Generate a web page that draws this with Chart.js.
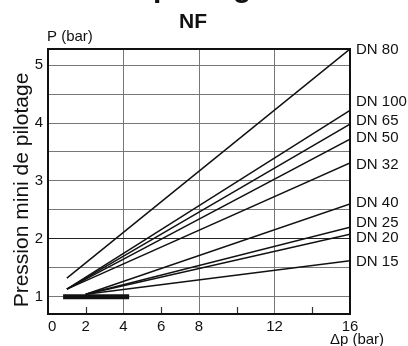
<!DOCTYPE html>
<html lang="fr">
<head>
<meta charset="utf-8">
<title>Pression mini de pilotage - NF</title>
<script src="https://cdn.jsdelivr.net/npm/chart.js@4.4.1/dist/chart.umd.min.js"></script>
<style>
    html, body { margin: 0; padding: 0; background: #fff; }
    canvas { display: block; }
</style>
</head>
<body>
<canvas id="graficoNF" width="408" height="346"></canvas>
<script>
/* ================= DONNEES ================= */
const series = ['DN 80', 'DN 100', 'DN 65', 'DN 50', 'DN 32', 'DN 40', 'DN 25', 'DN 20', 'DN 15'];
const dpDebut = [1, 1, 1, 1, 1, 2, 2, 2, 2];
const pDebut = [1.32, 1.13, 1.13, 1.13, 1.13, 1.04, 1.04, 1.04, 1.04];
const dpFin = [16, 16, 16, 16, 16, 16, 16, 16, 16];
const pFin = [5.28, 4.22, 3.98, 3.72, 3.31, 2.60, 2.20, 2.08, 1.62];

// palier a 1 bar (trait epais)
const dpPalier = [0.8, 4.3];
const pPalier = [1, 1];

// graduations
const xTicks = [0, 2, 4, 6, 8, 10, 12, 14, 16];
const xLabels = [0, 2, 4, 6, 8, 12, 16];
const xGrid = [4, 8, 12];
const yTicks = [1, 1.5, 2, 2.5, 3, 3.5, 4, 4.5, 5];
const yLabels = [1, 2, 3, 4, 5];

/* ================= STYLE ================= */
const FONTE = "'Liberation Sans', Arial, Helvetica, sans-serif";
const NOIR = '#111';
const GRIS = '#777';

// petits decalages verticaux des etiquettes DN (pour eviter les chevauchements)
const decalage = { 'DN 80': 1, 'DN 100': -8, 'DN 65': -3, 'DN 50': -1, 'DN 32': 2, 'DN 40': -1, 'DN 25': -4, 'DN 20': 4, 'DN 15': 1 };

// Fond blanc, cadre, petits traits, textes
const habillage = {
    id: 'habillage',
    beforeDraw: function (chart) {
        const ctx = chart.ctx;
        ctx.save();
        ctx.fillStyle = '#fff';
        ctx.fillRect(0, 0, chart.width, chart.height);
        ctx.restore();
    },
    afterDatasetsDraw: function (chart) {
        const ctx = chart.ctx;
        const a = chart.chartArea;
        const sx = chart.scales.x;
        const sy = chart.scales.y;
        ctx.save();

        // petits traits a 2, 6, 10, 14
        ctx.strokeStyle = '#333';
        ctx.lineWidth = 1.2;
        xTicks.forEach(function (v) {
            if (xGrid.includes(v) || v === sx.min || v === sx.max) return;
            const px = Math.round(sx.getPixelForValue(v)) + 0.5;
            ctx.beginPath();
            ctx.moveTo(px, a.bottom);
            ctx.lineTo(px, a.bottom - 7);
            ctx.stroke();
        });

        // cadre
        ctx.strokeStyle = NOIR;
        ctx.lineWidth = 2;
        ctx.strokeRect(a.left, a.top, a.right - a.left, a.bottom - a.top);

        // etiquettes DN en bout de courbe
        ctx.fillStyle = NOIR;
        ctx.font = '15px ' + FONTE;
        ctx.textAlign = 'left';
        ctx.textBaseline = 'middle';
        chart.data.datasets.forEach(function (ds) {
            if (!ds.etiquette) return;
            const fin = ds.data[ds.data.length - 1];
            ctx.fillText(ds.label, sx.getPixelForValue(fin.x) + 6, sy.getPixelForValue(fin.y) + (decalage[ds.label] || 0));
        });

        // unites des axes
        ctx.textBaseline = 'alphabetic';
        ctx.fillText('P (bar)', a.left - 1, a.top - 8);
        ctx.textAlign = 'center';
        ctx.fillText('\u0394p (bar)', 357, 344);

        // titre
        ctx.font = 'bold 21px ' + FONTE;
        ctx.fillText('NF', 193, 28);

        // titre coupe en haut de l'image
        ctx.font = 'bold 30px ' + FONTE;
        ctx.textAlign = 'left';
        const debut = 153 - ctx.measureText('Pression de ').width;
        ctx.fillText('Pression de pilotage', debut, -3);

        // titre vertical
        ctx.font = '21px ' + FONTE;
        ctx.textAlign = 'center';
        ctx.translate(28, 190);
        ctx.rotate(-Math.PI / 2);
        ctx.fillText('Pression mini de pilotage', 0, 0);
        ctx.restore();
    }
};

/* ================= GRAPHIQUE ================= */
const jeux = series.map(function (nom, i) {
    return {
        label: nom,
        data: [{ x: dpDebut[i], y: pDebut[i] }, { x: dpFin[i], y: pFin[i] }],
        borderColor: NOIR,
        borderWidth: 1.5,
        pointRadius: 0,
        etiquette: true
    };
});
jeux.push({
    label: 'palier',
    data: dpPalier.map(function (v, i) { return { x: v, y: pPalier[i] }; }),
    borderColor: NOIR,
    borderWidth: 5,
    borderCapStyle: 'butt',
    pointRadius: 0
});

var ctxNF = document.getElementById('graficoNF').getContext('2d');
var graficoNF = new Chart(ctxNF, {
    type: 'line',
    data: { datasets: jeux },
    options: {
        responsive: false,
        animation: false,
        events: [],
        layout: { padding: { left: 0, right: 58, top: 49, bottom: 0 } },
        plugins: {
            legend: { display: false },
            tooltip: { enabled: false },
            title: { display: false }
        },
        scales: {
            x: {
                type: 'linear',
                min: 0,
                max: 16,
                afterFit: function (s) { s.height = 32; },
                afterBuildTicks: function (s) { s.ticks = xTicks.map(function (v) { return { value: v }; }); },
                border: { display: false },
                grid: {
                    drawTicks: false,
                    lineWidth: 1,
                    color: function (c) { return xGrid.includes(c.tick.value) ? GRIS : 'transparent'; }
                },
                ticks: {
                    padding: 4,
                    maxRotation: 0,
                    autoSkip: false,
                    color: NOIR,
                    font: { family: FONTE, size: 15 },
                    // le 0 est un peu decale vers la droite sur l'original
                    callback: function (v) {
                        if (!xLabels.includes(v)) return '';
                        return v === 0 ? '\u20070' : String(v);
                    }
                }
            },
            y: {
                type: 'linear',
                min: 0.7,
                max: 5.28,
                afterFit: function (s) { s.width = 48; },
                afterBuildTicks: function (s) { s.ticks = yTicks.map(function (v) { return { value: v }; }); },
                border: { display: false },
                grid: {
                    drawTicks: false,
                    lineWidth: 1,
                    color: function (c) { return c.tick.value === 2 ? '#222' : GRIS; }
                },
                ticks: {
                    padding: 5,
                    autoSkip: false,
                    color: NOIR,
                    font: { family: FONTE, size: 15 },
                    callback: function (v) { return yLabels.includes(v) ? String(v) : ''; }
                }
            }
        }
    },
    plugins: [habillage]
});
</script>
</body>
</html>
